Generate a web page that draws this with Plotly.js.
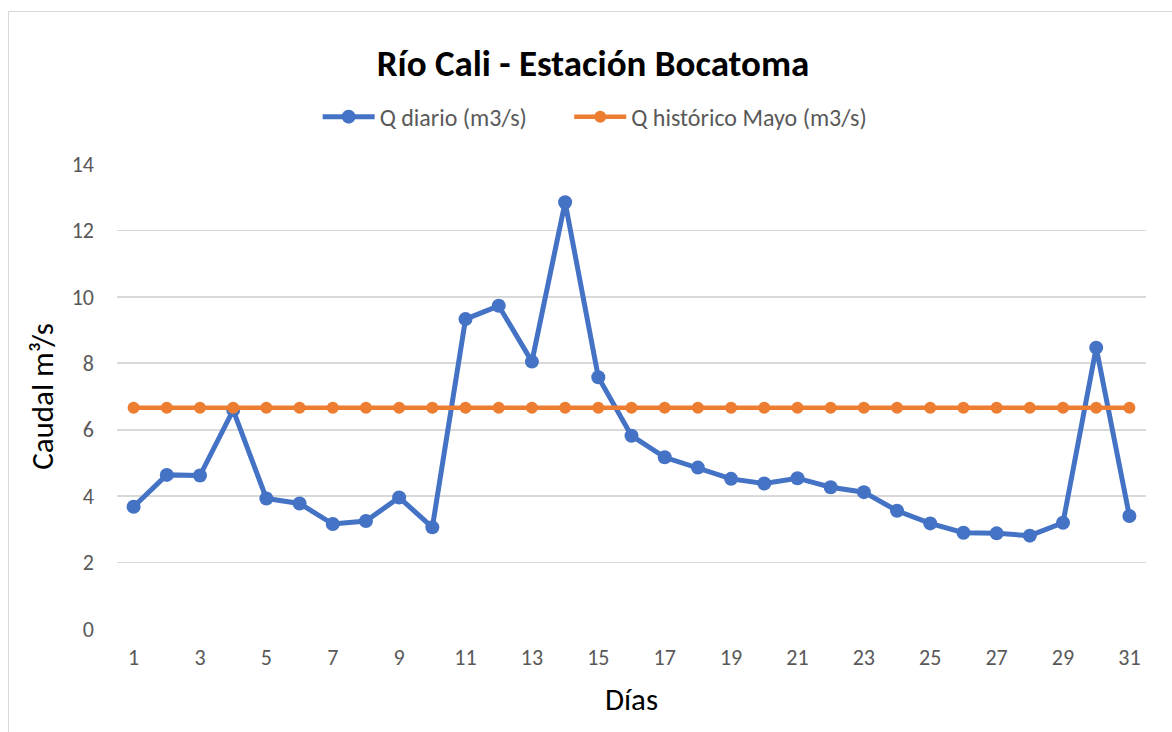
<!DOCTYPE html>
<html>
<head>
<meta charset="utf-8">
<script src="https://cdn.plot.ly/plotly-3.0.1.min.js"></script>
<style>
  html, body { margin: 0; padding: 0; background: #ffffff; }
  #frame { position: absolute; left: 8px; top: 11px; width: 1200px; height: 800px; border: 1px solid #d9d9d9; box-sizing: border-box; }
  #chart { position: absolute; left: 0; top: 0; width: 1172px; height: 732px; }
</style>
</head>
<body>
<div id="frame"></div>
<div id="chart"></div>
<script>
const days = [1,2,3,4,5,6,7,8,9,10,11,12,13,14,15,16,17,18,19,20,21,22,23,24,25,26,27,28,29,30,31];
const qDiario = [3.68,4.64,4.62,6.59,3.93,3.78,3.16,3.25,3.96,3.06,9.33,9.73,8.05,12.85,7.58,5.82,5.17,4.86,4.52,4.38,4.54,4.27,4.12,3.56,3.18,2.90,2.88,2.81,3.20,8.47,3.40];
const qHistoricoMayo = [6.66,6.66,6.66,6.66,6.66,6.66,6.66,6.66,6.66,6.66,6.66,6.66,6.66,6.66,6.66,6.66,6.66,6.66,6.66,6.66,6.66,6.66,6.66,6.66,6.66,6.66,6.66,6.66,6.66,6.66,6.66];
const xTickLabels = [1,3,5,7,9,11,13,15,17,19,21,23,25,27,29,31];
const yTicks = [0,2,4,6,8,10,12,14];
const seriesNames = ['Q diario (m3/s)', 'Q histórico Mayo (m3/s)'];

const FONT = 'Carlito, Lato, "Open Sans", "Noto Sans", sans-serif';

const traces = [
  {
    x: days, y: qDiario, name: seriesNames[0], type: 'scatter', mode: 'lines+markers',
    line: {color: '#4472c4', width: 5},
    marker: {color: '#4472c4', size: 14},
    legend: 'legend'
  },
  {
    x: days, y: qHistoricoMayo, name: seriesNames[1], type: 'scatter', mode: 'lines+markers',
    line: {color: '#ed7d31', width: 4.5},
    marker: {color: '#ed7d31', size: 12},
    legend: 'legend2'
  }
];

const legendFont = {family: FONT, size: 24, color: '#595959'};

const layout = {
  width: 1172, height: 732,
  paper_bgcolor: 'rgba(0,0,0,0)',
  plot_bgcolor: 'rgba(0,0,0,0)',
  margin: {l: 117, r: 26, t: 164, b: 103},
  font: {family: FONT, color: '#595959', size: 22},
  title: {
    text: '<b>Río Cali - Estación Bocatoma</b>',
    font: {family: FONT, size: 37, color: '#000000'},
    x: 0.506, xanchor: 'center', y: 0.914, yanchor: 'middle'
  },
  showlegend: true,
  legend: {
    orientation: 'h', x: 0.195, xanchor: 'left', y: 1.101, yanchor: 'middle',
    font: legendFont, itemwidth: 52, bgcolor: 'rgba(0,0,0,0)'
  },
  legend2: {
    orientation: 'h', x: 0.4395, xanchor: 'left', y: 1.101, yanchor: 'middle',
    font: legendFont, itemwidth: 52, bgcolor: 'rgba(0,0,0,0)'
  },
  xaxis: {
    range: [0.5, 31.5],
    tickmode: 'array', tickvals: xTickLabels, ticktext: xTickLabels.map(String),
    showgrid: false, zeroline: false, showline: false, ticks: '',
    ticklabelstandoff: 13,
    tickfont: {family: FONT, size: 22, color: '#595959'},
    title: {text: 'Días', font: {family: FONT, size: 31, color: '#000000'}, standoff: 18}
  },
  yaxis: {
    range: [0, 14],
    tickmode: 'array', tickvals: yTicks, ticktext: yTicks.map(String),
    showgrid: true, gridcolor: '#d9d9d9', gridwidth: 1.8,
    zeroline: false, showline: false, ticks: '',
    ticklabelstandoff: 22,
    tickfont: {family: FONT, size: 22, color: '#595959'},
    title: {text: 'Caudal m³/s', font: {family: FONT, size: 31, color: '#000000'}, standoff: 8}
  }
};

Plotly.newPlot('chart', traces, layout, {staticPlot: true, displayModeBar: false});
</script>
</body>
</html>
